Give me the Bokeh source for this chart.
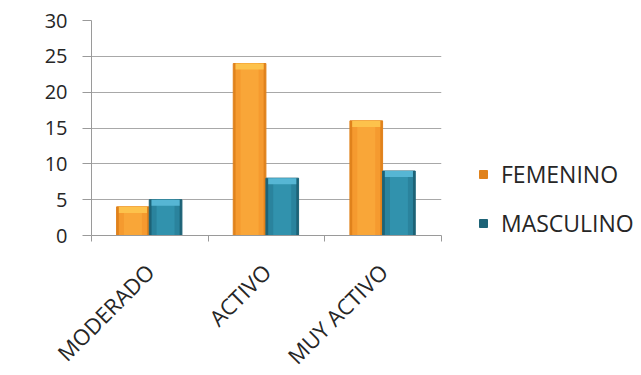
import math
from bokeh.plotting import figure
from bokeh.models import (ColumnDataSource, FactorRange, Legend, LegendItem,
                          SingleIntervalTicker, LinearAxis, FixedTicker, CategoricalAxis)
from bokeh.transform import dodge
from bokeh.embed import file_html
from bokeh.resources import INLINE

# Activity level by sex
categories = ["MODERADO", "ACTIVO", "MUY ACTIVO"]
femenino = [4, 24, 16]
masculino = [5, 8, 9]
series_names = ["FEMENINO", "MASCULINO"]

FONT = "Open Sans"
TEXT = "#262626"

src = ColumnDataSource(dict(
    cat=categories,
    fem=femenino,
    mas=masculino,
    fem_band=[v - 0.85 for v in femenino],
    mas_band=[v - 0.85 for v in masculino],
))

p = figure(frame_width=350, frame_height=215,
           x_range=FactorRange(factors=categories, range_padding=0),
           y_range=(0, 30), output_backend="svg", toolbar_location=None,
           min_border_left=91, min_border_right=200, min_border_top=20,
           min_border_bottom=140, outline_line_color=None, x_axis_location=None)

BW = 0.28
OFF_F, OFF_M = -0.145, 0.135

def bar(field, band, off, edge, mid, light, top):
    # shaded column: dark rim, body, lighter core and a bright cap
    x = dodge("cat", off, range=p.x_range)
    r = p.vbar(x=x, top=field, width=BW, source=src, fill_color=edge, line_color=edge)
    p.vbar(x=x, top=field, width=BW * 0.86, source=src, fill_color=mid, line_color=None)
    p.vbar(x=x, top=field, width=BW * 0.55, source=src, fill_color=light, line_color=None)
    p.vbar(x=x, top=field, bottom=band, width=BW * 0.86, source=src, fill_color=top,
           line_color=None)
    return r

r_f = bar("fem", "fem_band", OFF_F, "#E0821C", "#F59A2F", "#F9A638", "#FDC24C")
r_m = bar("mas", "mas_band", OFF_M, "#1D6377", "#2A839D", "#3192AD", "#56B6D4")

# value axis
p.yaxis.ticker = SingleIntervalTicker(interval=5)
p.yaxis.axis_line_color = "#9A9A9A"
p.yaxis.major_tick_line_color = "#9A9A9A"
p.yaxis.major_tick_out = 9
p.yaxis.major_tick_in = 0
p.yaxis.minor_tick_line_color = None
p.yaxis.major_label_standoff = 15
p.yaxis.major_label_text_font = FONT
p.yaxis.major_label_text_font_size = "20px"
p.yaxis.major_label_text_color = TEXT

p.ygrid.grid_line_color = "#A8A8A8"
p.xgrid.grid_line_color = None

# category boundary ticks (labels left undrawn)
bticks = LinearAxis(ticker=FixedTicker(ticks=[0, 1, 2, 3]), axis_line_color="#9A9A9A",
                    major_tick_line_color="#9A9A9A", major_tick_out=6, major_tick_in=0,
                    minor_tick_line_color=None, major_label_text_font_size="10px",
                    major_label_text_color=None, major_label_standoff=0)
p.add_layout(bticks, "below")

cax = CategoricalAxis(axis_line_color=None, major_tick_line_color=None,
                      major_label_orientation=math.pi / 4,
                      major_label_text_font=FONT, major_label_text_font_size="22px",
                      major_label_text_color=TEXT, major_label_standoff=20)
p.add_layout(cax, "below")

legend = Legend(items=[LegendItem(label=series_names[0], renderers=[r_f]),
                       LegendItem(label=series_names[1], renderers=[r_m])],
                location=(37, -4), orientation="vertical",
                border_line_color=None, background_fill_alpha=0,
                label_text_font=FONT, label_text_font_size="23px",
                label_text_color=TEXT, glyph_width=10, glyph_height=10,
                label_height=20, spacing=17, padding=0, margin=0, label_standoff=13)
p.add_layout(legend, "right")

open("out.html", "w").write(file_html(p, INLINE))
